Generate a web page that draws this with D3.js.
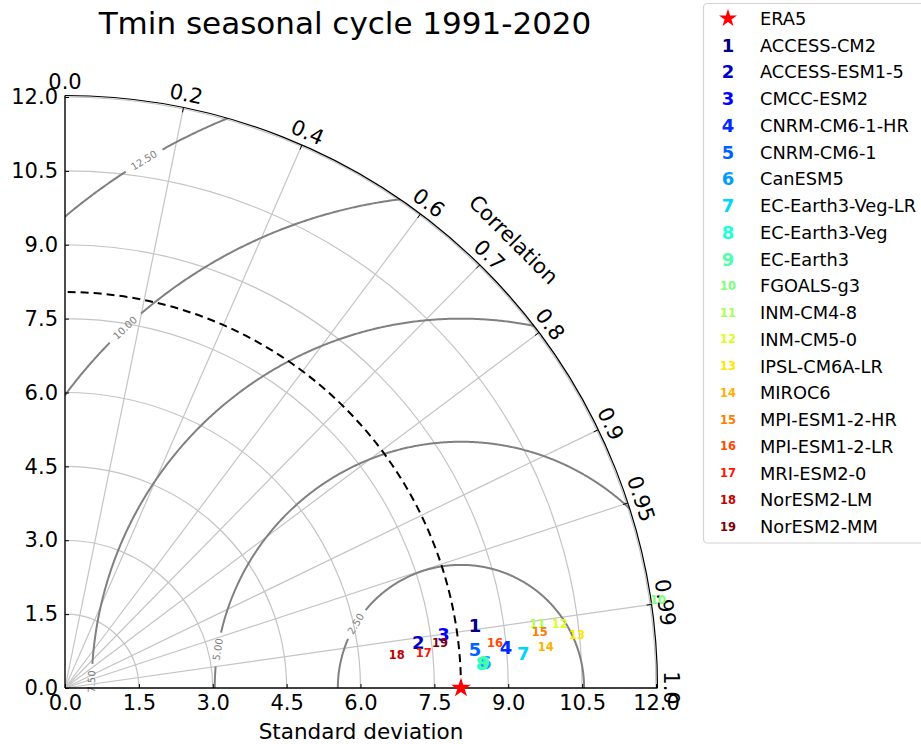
<!DOCTYPE html>
<html><head><meta charset="utf-8">
<script src="https://cdn.jsdelivr.net/npm/d3@7"></script>
<style>
body{margin:0;background:#fff;}
svg{display:block;font-family:"DejaVu Sans",sans-serif;}
</style></head><body>
<svg id="chart" width="921" height="744"></svg>
<script>
// ---------------- data ----------------
const title = "Tmin seasonal cycle 1991-2020";
const refName = "ERA5";
const refStd = 8.04;
const models = ["ACCESS-CM2","ACCESS-ESM1-5","CMCC-ESM2","CNRM-CM6-1-HR","CNRM-CM6-1","CanESM5",
  "EC-Earth3-Veg-LR","EC-Earth3-Veg","EC-Earth3","FGOALS-g3","INM-CM4-8","INM-CM5-0","IPSL-CM6A-LR",
  "MIROC6","MPI-ESM1-2-HR","MPI-ESM1-2-LR","MRI-ESM2-0","NorESM2-LM","NorESM2-MM"];
const modelStd  = [8.42,7.23,7.76,8.99,8.36,8.55,9.33,8.48,8.52,12.17,9.68,10.13,10.45,9.80,9.71,8.78,7.32,6.77,7.67];
const modelCorr = [0.9887,0.9919,0.9903,0.9958,0.9956,0.9981,0.9972,0.9983,0.9982,0.9892,0.9909,0.9917,0.9947,0.9963,0.9930,0.9945,0.9952,0.9951,0.9928];
const stdTicks = [0,1.5,3,4.5,6,7.5,9,10.5,12];
const corrGrid = [0.2,0.4,0.6,0.7,0.8,0.9,0.95,0.99];
const corrTicks = [0,0.2,0.4,0.6,0.7,0.8,0.9,0.95,0.99,1.0];
const corrTickLabels = ["0.0","0.2","0.4","0.6","0.7","0.8","0.9","0.95","0.99","1.0"];
const rmsLevels = [2.5,5,7.5,10,12.5];
const rmsLabels = ["2.50","5.00","7.50","10.00","12.50"];
const rmsLabelAngle = [148.6,171,179,133,121];   // degrees around the reference point

// ---------------- layout ----------------
const svg = d3.select("#chart");
const ox = 65, oy = 688, maxStd = 12, Rpx = 591;
const r  = d3.scaleLinear().domain([0,maxStd]).range([0,Rpx]);
const xs = d3.scaleLinear().domain([0,maxStd]).range([ox,ox+Rpx]);
const ys = d3.scaleLinear().domain([0,maxStd]).range([oy,oy-Rpx]);
const R = r(maxStd), Rb = R + 1.5;
const pt = (s,c) => { const th = Math.acos(c); return [ox + r(s)*Math.cos(th), oy - r(s)*Math.sin(th)]; };
const quarter = rr => `M${ox+rr},${oy} A${rr},${rr} 0 0 0 ${ox},${oy-rr}`;

// jet colormap
const jr = d3.scaleLinear().domain([0,0.35,0.66,0.89,1]).range([0,0,1,1,0.5]);
const jg = d3.scaleLinear().domain([0,0.125,0.375,0.64,0.91,1]).range([0,0,1,1,0,0]);
const jb = d3.scaleLinear().domain([0,0.11,0.34,0.65,1]).range([0.5,1,1,0,0]);
const jet = t => d3.rgb(jr(t)*255, jg(t)*255, jb(t)*255).formatHex();
const color = i => jet(i/(models.length-1));

svg.append("defs").append("clipPath").attr("id","qclip")
  .append("path").attr("d", `M${ox},${oy} L${ox+Rb},${oy} A${Rb},${Rb} 0 0 0 ${ox},${oy-Rb} Z`);

// std grid circles
svg.append("g").selectAll("path").data(stdTicks.filter(d=>d>0)).join("path")
  .attr("d", d => quarter(r(d))).attr("fill","none").attr("stroke","#c4c4c4").attr("stroke-width",1.2);

// correlation radial lines
svg.append("g").selectAll("line").data(corrGrid).join("line")
  .attr("x1",ox).attr("y1",oy)
  .attr("x2",d=>pt(maxStd,d)[0]).attr("y2",d=>pt(maxStd,d)[1])
  .attr("stroke","#c4c4c4").attr("stroke-width",1.2);

// RMS contours with inline labels
const cx = xs(refStd), cy = oy;
const gR = svg.append("g").attr("clip-path","url(#qclip)");
const line = d3.line();
rmsLevels.forEach((L,k) => {
  const rr = r(L);
  const la = rmsLabelAngle[k]*Math.PI/180;
  const halfGap = (rmsLabels[k].length*3.2 + 4)/rr;
  const segs = [[],[]];
  for (let a=0; a<=180; a+=0.25){
    const ph = a*Math.PI/180;
    if (Math.abs(ph-la) < halfGap) continue;
    segs[ph<la?0:1].push([cx + rr*Math.cos(ph), cy - rr*Math.sin(ph)]);
  }
  segs.filter(s=>s.length>1).forEach(s => gR.append("path").attr("d",line(s))
    .attr("fill","none").attr("stroke","#808080").attr("stroke-width",2));
  const lx = cx + rr*Math.cos(la), ly = cy - rr*Math.sin(la);
  svg.append("text").attr("x",lx).attr("y",ly)
    .attr("transform",`rotate(${90-rmsLabelAngle[k]},${lx},${ly})`)
    .attr("text-anchor","middle").attr("dominant-baseline","central")
    .attr("font-size",10).attr("fill","#808080").text(rmsLabels[k]);
});

// reference std circle
svg.append("path").attr("d",quarter(r(refStd))).attr("fill","none")
  .attr("stroke","#000").attr("stroke-width",2).attr("stroke-dasharray","8,5");

// outer boundary
svg.append("path").attr("d",quarter(Rb)).attr("fill","none").attr("stroke","#000").attr("stroke-width",1.2);

// correlation ticks and labels
svg.append("g").selectAll("line").data(corrTicks.slice(1,-1)).join("line")
  .attr("x1",d=>ox+Rb*d).attr("y1",d=>oy-Rb*Math.sqrt(1-d*d))
  .attr("x2",d=>ox+(Rb-5)*d).attr("y2",d=>oy-(Rb-5)*Math.sqrt(1-d*d))
  .attr("stroke","#000").attr("stroke-width",1);
svg.append("g").selectAll("text").data(corrTicks).join("text")
  .each(function(d,i){
    const th = Math.acos(d), rl = R + 15;
    const x = ox + rl*Math.cos(th), y = oy - rl*Math.sin(th);
    d3.select(this).attr("x",x).attr("y",y)
      .attr("transform",`rotate(${90-th*180/Math.PI},${x},${y})`)
      .attr("text-anchor","middle").attr("dominant-baseline","central")
      .attr("font-size",21).attr("fill","#000").text(corrTickLabels[i]);
  });
{
  const th = Math.PI/4, rl = R + 43;
  const x = ox + rl*Math.cos(th), y = oy - rl*Math.sin(th);
  svg.append("text").attr("x",x).attr("y",y).attr("transform",`rotate(45,${x},${y})`)
    .attr("text-anchor","middle").attr("dominant-baseline","central")
    .attr("font-size",21).text("Correlation");
}

// axes
const fmt = d3.format(".1f");
const gx = svg.append("g").attr("transform",`translate(0,${oy})`)
  .call(d3.axisBottom(xs).tickValues(stdTicks).tickFormat(fmt).tickSize(-4).tickSizeOuter(0).tickPadding(7));
const gy = svg.append("g").attr("transform",`translate(${ox},0)`)
  .call(d3.axisLeft(ys).tickValues(stdTicks).tickFormat(fmt).tickSize(-4).tickSizeOuter(0).tickPadding(7));
[gx,gy].forEach(g => {
  g.selectAll("text").attr("font-size",21).attr("font-family","DejaVu Sans").attr("fill","#000");
  g.select(".domain").attr("stroke","#000").attr("stroke-width",1.4);
  g.selectAll(".tick line").attr("stroke","#000");
});
gx.select(".domain").attr("d",`M${ox},0H${ox+Rb}`);
gy.select(".domain").attr("d",`M0,${oy}V${oy-Rb}`);

svg.append("text").attr("x",361).attr("y",739).attr("text-anchor","middle")
  .attr("font-size",21.5).text("Standard deviation");
svg.append("text").attr("x",345).attr("y",34).attr("text-anchor","middle")
  .attr("font-size",31).text(title);

// reference point
const star = d3.symbol(d3.symbolStar).size(120);
svg.append("path").attr("d",star()).attr("transform",`translate(${pt(refStd,1)[0]},${pt(refStd,1)[1]})`).attr("fill","#ff0000");

// model markers
svg.append("g").selectAll("text").data(models).join("text")
  .attr("x",(d,i)=>pt(modelStd[i],modelCorr[i])[0])
  .attr("y",(d,i)=>pt(modelStd[i],modelCorr[i])[1])
  .attr("text-anchor","middle").attr("dominant-baseline","central")
  .attr("font-weight","bold").attr("font-size",(d,i)=>i<9?18:11.5)
  .attr("fill",(d,i)=>color(i)).text((d,i)=>i+1);

// legend
const lg = svg.append("g");
lg.append("rect").attr("x",703.5).attr("y",3.5).attr("width",240).attr("height",539.5).attr("rx",4)
  .attr("fill","#fff").attr("stroke","#d4d4d4").attr("stroke-width",1.2);
const rowY = i => 18.3 + i*26.76;
lg.append("path").attr("d",d3.symbol(d3.symbolStar).size(100)()).attr("transform",`translate(728,${rowY(0)})`).attr("fill","#ff0000");
lg.append("text").attr("x",760).attr("y",rowY(0)).attr("dominant-baseline","central").attr("font-size",17.8).text(refName);
models.forEach((m,i) => {
  lg.append("text").attr("x",728).attr("y",rowY(i+1)).attr("text-anchor","middle").attr("dominant-baseline","central")
    .attr("font-weight","bold").attr("font-size",i<9?18:11.5).attr("fill",color(i)).text(i+1);
  lg.append("text").attr("x",760).attr("y",rowY(i+1)).attr("dominant-baseline","central")
    .attr("font-size",17.8).attr("fill","#000").text(m);
});
</script>
</body></html>
